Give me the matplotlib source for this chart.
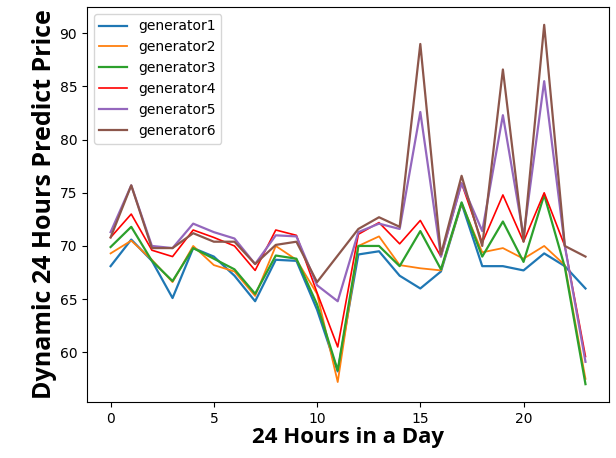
import matplotlib
matplotlib.use("Agg")
import matplotlib.pyplot as plt
import numpy as np

hours = list(range(24))
generator1 = [68.1, 70.6, 68.6, 65.1, 69.8, 69.0, 67.2, 64.8, 68.7, 68.6, 64.0, 58.2,
              69.2, 69.5, 67.2, 66.0, 67.6, 74.0, 68.1, 68.1, 67.7, 69.3, 68.1, 66.0]
generator2 = [69.3, 70.5, 68.7, 66.6, 70.0, 68.2, 67.6, 65.3, 70.0, 68.7, 65.5, 57.2,
              70.0, 70.9, 68.2, 67.9, 67.7, 74.0, 69.4, 69.8, 68.8, 70.0, 68.2, 57.5]
generator3 = [69.9, 71.8, 68.6, 66.7, 69.8, 68.8, 67.8, 65.5, 69.1, 68.8, 64.5, 58.3,
              70.0, 70.0, 68.1, 71.4, 67.8, 74.1, 69.0, 72.3, 68.5, 74.8, 68.0, 57.0]
generator4 = [70.8, 73.0, 69.6, 69.0, 71.5, 70.8, 70.0, 67.7, 71.5, 71.0, 65.6, 60.5,
              71.1, 72.2, 70.2, 72.4, 69.0, 75.9, 70.3, 74.8, 70.4, 75.0, 70.0, 59.6]
generator5 = [71.3, 75.7, 70.0, 69.8, 72.1, 71.3, 70.7, 68.3, 71.0, 70.9, 66.3, 64.8,
              71.3, 72.1, 71.6, 82.6, 69.0, 75.9, 71.4, 82.3, 70.9, 85.5, 70.0, 59.1]
generator6 = [70.8, 75.7, 69.8, 69.8, 71.2, 70.4, 70.4, 68.3, 70.1, 70.4, 66.6, 69.1,
              71.6, 72.7, 71.8, 89.0, 69.2, 76.6, 70.0, 86.6, 70.4, 90.8, 70.0, 69.0]

series = [generator1, generator2, generator3, generator4, generator5, generator6]
names = ['generator1', 'generator2', 'generator3', 'generator4', 'generator5', 'generator6']
colors = ['#1f77b4', '#ff7f0e', '#2ca02c', '#ff0000', '#9467bd', '#8c564b']
widths = [1.6, 1.3, 1.6, 1.2, 1.6, 1.6]

fig = plt.figure(figsize=(6.16, 4.58), dpi=100)
ax = fig.add_axes([0.141, 0.122, 0.848, 0.863])
for s, n, c, w in zip(series, names, colors, widths):
    ax.plot(hours, s, color=c, lw=w, label=n)

ax.set_xticks([0, 5, 10, 15, 20])
ax.set_yticks([60, 65, 70, 75, 80, 85, 90])
ax.tick_params(labelsize=10)
ax.set_xlabel('24 Hours in a Day', fontsize=16, fontweight='bold',
              family='Open Sans', labelpad=1)
ax.set_ylabel('Dynamic 24 Hours Predict Price', fontsize=18, fontweight='bold',
              family='Open Sans', labelpad=2)
ax.legend(loc='upper left', fontsize=10)
fig.savefig('out.png', dpi=100)
